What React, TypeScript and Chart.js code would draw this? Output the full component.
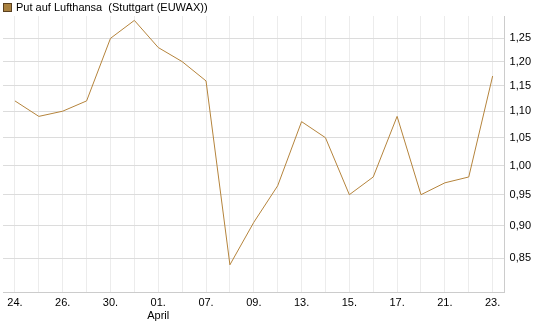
import React, { useEffect, useRef } from "react";
import { Chart, registerables } from "chart.js";

Chart.register(...registerables);

const categories: (string | string[])[] = [
  "24.", "25.", "26.", "27.", "30.", "31.", ["01.", "April"], "02.", "07.", "08.",
  "09.", "10.", "13.", "14.", "15.", "16.", "17.", "20.", "21.", "22.", "23.",
];
const values: number[] = [
  1.12, 1.09, 1.10, 1.12, 1.25, 1.29, 1.23, 1.20, 1.16, 0.84,
  0.905, 0.965, 1.08, 1.05, 0.95, 0.98, 1.09, 0.95, 0.97, 0.98, 1.17,
];
const yTicks: number[] = [0.85, 0.9, 0.95, 1.0, 1.05, 1.1, 1.15, 1.2, 1.25];
const seriesName = "Put auf Lufthansa  (Stuttgart (EUWAX))";

const FONT_FAMILY = "'Liberation Sans', Arial, sans-serif";

const legendPlugin = {
  id: "topLegend",
  afterDraw(chart: any) {
    const ctx = chart.ctx;
    ctx.save();
    ctx.fillStyle = "#a9813f";
    ctx.fillRect(3.5, 3.5, 8, 8);
    ctx.strokeStyle = "#5a4020";
    ctx.lineWidth = 1;
    ctx.strokeRect(3.5, 3.5, 8, 8);
    ctx.fillStyle = "#000";
    ctx.font = `11px ${FONT_FAMILY}`;
    ctx.textBaseline = "middle";
    ctx.textAlign = "left";
    ctx.fillText(seriesName, 16, 8);
    ctx.restore();
  },
};

export default function App() {
  const ref = useRef<HTMLCanvasElement | null>(null);
  useEffect(() => {
    if (!ref.current) return;
    const font = { family: FONT_FAMILY, size: 11 };
    const chart = new Chart(ref.current, {
      type: "line",
      data: {
        labels: categories,
        datasets: [
          {
            label: seriesName,
            data: values,
            borderColor: "#b5843c",
            backgroundColor: "#a9813f",
            borderWidth: 1,
            pointRadius: 0,
            tension: 0,
          },
        ],
      },
      plugins: [legendPlugin],
      options: {
        animation: false,
        responsive: false,
        layout: { padding: { left: 3, right: 9, top: 16, bottom: 0 } },
        plugins: {
          tooltip: { enabled: false },
          legend: { display: false },
        },
        scales: {
          x: {
            offset: true,
            grid: { offset: false, color: "#ececec", drawTicks: false },
            border: { color: "#cccccc" },
            ticks: {
              font,
              color: "#000",
              autoSkip: false,
              maxRotation: 0,
              padding: 4,
              callback: (_v: any, i: number) => (i % 2 === 0 ? categories[i] : ""),
            },
          },
          y: {
            type: "logarithmic",
            position: "right",
            min: 0.8,
            max: 1.3,
            grid: { color: "#dcdcdc", drawTicks: false },
            border: { color: "#cccccc" },
            afterBuildTicks: (scale: any) => {
              scale.ticks = yTicks.map((v) => ({ value: v }));
            },
            ticks: {
              font,
              color: "#000",
              padding: 5,
              callback: (v: any) => Number(v).toFixed(2).replace(".", ","),
            },
          },
        },
      },
    });
    return () => chart.destroy();
  }, []);
  return (
    <div style={{ position: "absolute", left: 0, top: 0, width: 545, height: 327 }}>
      <canvas ref={ref} width={545} height={327} style={{ display: "block" }} />
    </div>
  );
}
